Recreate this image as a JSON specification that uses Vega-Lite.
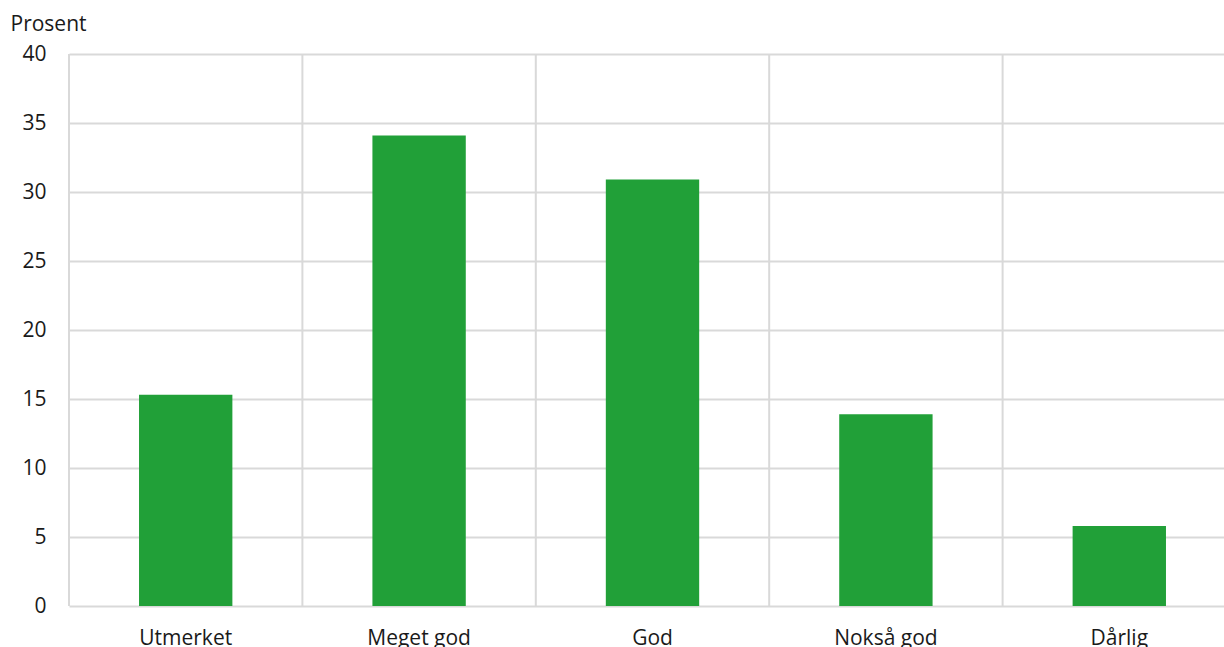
{
  "$schema": "https://vega.github.io/schema/vega-lite/v6.json",
  "autosize": "none",
  "width": 1167,
  "height": 552,
  "padding": {"left": 69, "top": 54, "right": 0, "bottom": 41},
  "background": "white",
  "config": {
    "font": "Open Sans",
    "view": {"stroke": null},
    "axis": {"labelFont": "Open Sans", "titleFont": "Open Sans", "labelColor": "#1a1a1a", "titleColor": "#1a1a1a", "labelFontSize": 21, "titleFontSize": 21, "titleFontWeight": "normal"}
  },
  "data": {
    "values": [
      {"kategori": "Utmerket", "prosent": 15.3},
      {"kategori": "Meget god", "prosent": 34.1},
      {"kategori": "God", "prosent": 30.9},
      {"kategori": "Nokså god", "prosent": 13.9},
      {"kategori": "Dårlig", "prosent": 5.8}
    ]
  },
  "resolve": {"axis": {"x": "independent"}},
  "layer": [
    {
      "mark": {"type": "rule", "color": "#d9d9d9", "strokeWidth": 2},
      "encoding": {
        "x": {"field": "kategori", "type": "nominal", "sort": null, "bandPosition": 0, "axis": null}
      }
    },
    {
      "mark": {"type": "bar", "color": "#21a038", "width": {"band": 0.4}},
      "encoding": {
        "x": {
          "field": "kategori", "type": "nominal", "sort": null,
          "scale": {"paddingInner": 0, "paddingOuter": 0},
          "axis": {"title": null, "labelAngle": 0, "domain": false, "ticks": false, "grid": false, "labelPadding": 21, "labelBaseline": "top", "labelAlign": "center", "bandPosition": 0.5}
        },
        "y": {
          "field": "prosent", "type": "quantitative",
          "scale": {"domain": [0, 40], "nice": false},
          "axis": {
            "title": "Prosent", "titleAngle": 0, "titleAlign": "left", "titleBaseline": "alphabetic",
            "titleX": -59, "titleY": -24,
            "values": [0, 5, 10, 15, 20, 25, 30, 35, 40],
            "domain": false, "ticks": false, "grid": true, "gridColor": "#d9d9d9", "gridWidth": 2,
            "labelPadding": 23
          }
        }
      }
    }
  ]
}
